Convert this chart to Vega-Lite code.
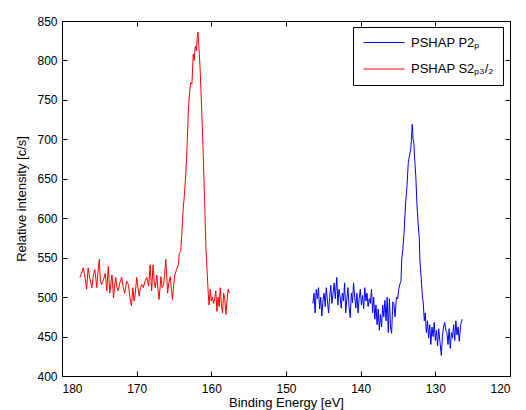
{
  "$schema": "https://vega.github.io/schema/vega-lite/v6.json",
  "width": 448,
  "height": 355,
  "autosize": "none",
  "padding": {"left": 62, "top": 21, "right": 16, "bottom": 34},
  "background": "white",
  "config": {
    "font": "Liberation Sans",
    "view": {"stroke": "black", "strokeWidth": 1},
    "axis": {
      "grid": false,
      "domainColor": "black",
      "tickColor": "black",
      "labelColor": "black",
      "titleColor": "black",
      "labelFont": "Liberation Sans",
      "titleFont": "Liberation Sans",
      "labelFontSize": 12,
      "titleFontSize": 13,
      "titleFontWeight": "normal",
      "tickSize": -5,
      "labelPadding": 9
    },
    "legend": {
      "labelFont": "Liberation Sans",
      "labelFontSize": 13,
      "labelColor": "black"
    }
  },
  "datasets": {
    "spectra": [
      {"series": "PSHAP S2ₚ₃/₂", "energy": 177.6, "intensity": 525},
      {"series": "PSHAP S2ₚ₃/₂", "energy": 177.4, "intensity": 530},
      {"series": "PSHAP S2ₚ₃/₂", "energy": 177.15, "intensity": 537},
      {"series": "PSHAP S2ₚ₃/₂", "energy": 176.9, "intensity": 524},
      {"series": "PSHAP S2ₚ₃/₂", "energy": 176.7, "intensity": 510},
      {"series": "PSHAP S2ₚ₃/₂", "energy": 176.5, "intensity": 537},
      {"series": "PSHAP S2ₚ₃/₂", "energy": 176.25, "intensity": 522},
      {"series": "PSHAP S2ₚ₃/₂", "energy": 176.0, "intensity": 512},
      {"series": "PSHAP S2ₚ₃/₂", "energy": 175.8, "intensity": 528},
      {"series": "PSHAP S2ₚ₃/₂", "energy": 175.6, "intensity": 535},
      {"series": "PSHAP S2ₚ₃/₂", "energy": 175.35, "intensity": 512},
      {"series": "PSHAP S2ₚ₃/₂", "energy": 175.2, "intensity": 530},
      {"series": "PSHAP S2ₚ₃/₂", "energy": 175.0, "intensity": 548},
      {"series": "PSHAP S2ₚ₃/₂", "energy": 174.85, "intensity": 520},
      {"series": "PSHAP S2ₚ₃/₂", "energy": 174.7, "intensity": 516},
      {"series": "PSHAP S2ₚ₃/₂", "energy": 174.45, "intensity": 522},
      {"series": "PSHAP S2ₚ₃/₂", "energy": 174.2, "intensity": 530},
      {"series": "PSHAP S2ₚ₃/₂", "energy": 174.0, "intensity": 508},
      {"series": "PSHAP S2ₚ₃/₂", "energy": 173.8, "intensity": 539},
      {"series": "PSHAP S2ₚ₃/₂", "energy": 173.6, "intensity": 505},
      {"series": "PSHAP S2ₚ₃/₂", "energy": 173.45, "intensity": 518},
      {"series": "PSHAP S2ₚ₃/₂", "energy": 173.3, "intensity": 528},
      {"series": "PSHAP S2ₚ₃/₂", "energy": 173.1, "intensity": 499},
      {"series": "PSHAP S2ₚ₃/₂", "energy": 172.95, "intensity": 515},
      {"series": "PSHAP S2ₚ₃/₂", "energy": 172.8, "intensity": 525},
      {"series": "PSHAP S2ₚ₃/₂", "energy": 172.65, "intensity": 512},
      {"series": "PSHAP S2ₚ₃/₂", "energy": 172.5, "intensity": 508},
      {"series": "PSHAP S2ₚ₃/₂", "energy": 172.25, "intensity": 518},
      {"series": "PSHAP S2ₚ₃/₂", "energy": 172.0, "intensity": 525},
      {"series": "PSHAP S2ₚ₃/₂", "energy": 171.8, "intensity": 512},
      {"series": "PSHAP S2ₚ₃/₂", "energy": 171.6, "intensity": 505},
      {"series": "PSHAP S2ₚ₃/₂", "energy": 171.35, "intensity": 520},
      {"series": "PSHAP S2ₚ₃/₂", "energy": 171.1, "intensity": 516},
      {"series": "PSHAP S2ₚ₃/₂", "energy": 170.9, "intensity": 499},
      {"series": "PSHAP S2ₚ₃/₂", "energy": 170.7, "intensity": 489},
      {"series": "PSHAP S2ₚ₃/₂", "energy": 170.5, "intensity": 512},
      {"series": "PSHAP S2ₚ₃/₂", "energy": 170.35, "intensity": 495},
      {"series": "PSHAP S2ₚ₃/₂", "energy": 170.2, "intensity": 503},
      {"series": "PSHAP S2ₚ₃/₂", "energy": 170.0, "intensity": 525},
      {"series": "PSHAP S2ₚ₃/₂", "energy": 169.8, "intensity": 510},
      {"series": "PSHAP S2ₚ₃/₂", "energy": 169.65, "intensity": 501},
      {"series": "PSHAP S2ₚ₃/₂", "energy": 169.5, "intensity": 512},
      {"series": "PSHAP S2ₚ₃/₂", "energy": 169.3, "intensity": 516},
      {"series": "PSHAP S2ₚ₃/₂", "energy": 169.1, "intensity": 512},
      {"series": "PSHAP S2ₚ₃/₂", "energy": 168.9, "intensity": 520},
      {"series": "PSHAP S2ₚ₃/₂", "energy": 168.65, "intensity": 525},
      {"series": "PSHAP S2ₚ₃/₂", "energy": 168.4, "intensity": 514},
      {"series": "PSHAP S2ₚ₃/₂", "energy": 168.2, "intensity": 541},
      {"series": "PSHAP S2ₚ₃/₂", "energy": 168.0, "intensity": 508},
      {"series": "PSHAP S2ₚ₃/₂", "energy": 167.8, "intensity": 541},
      {"series": "PSHAP S2ₚ₃/₂", "energy": 167.65, "intensity": 520},
      {"series": "PSHAP S2ₚ₃/₂", "energy": 167.5, "intensity": 512},
      {"series": "PSHAP S2ₚ₃/₂", "energy": 167.3, "intensity": 528},
      {"series": "PSHAP S2ₚ₃/₂", "energy": 167.15, "intensity": 510},
      {"series": "PSHAP S2ₚ₃/₂", "energy": 167.0, "intensity": 497},
      {"series": "PSHAP S2ₚ₃/₂", "energy": 166.75, "intensity": 526},
      {"series": "PSHAP S2ₚ₃/₂", "energy": 166.6, "intensity": 512},
      {"series": "PSHAP S2ₚ₃/₂", "energy": 166.4, "intensity": 516},
      {"series": "PSHAP S2ₚ₃/₂", "energy": 166.25, "intensity": 530},
      {"series": "PSHAP S2ₚ₃/₂", "energy": 166.1, "intensity": 548},
      {"series": "PSHAP S2ₚ₃/₂", "energy": 165.85, "intensity": 505},
      {"series": "PSHAP S2ₚ₃/₂", "energy": 165.7, "intensity": 518},
      {"series": "PSHAP S2ₚ₃/₂", "energy": 165.5, "intensity": 526},
      {"series": "PSHAP S2ₚ₃/₂", "energy": 165.35, "intensity": 510},
      {"series": "PSHAP S2ₚ₃/₂", "energy": 165.2, "intensity": 497},
      {"series": "PSHAP S2ₚ₃/₂", "energy": 165.05, "intensity": 515},
      {"series": "PSHAP S2ₚ₃/₂", "energy": 164.9, "intensity": 528},
      {"series": "PSHAP S2ₚ₃/₂", "energy": 164.65, "intensity": 535},
      {"series": "PSHAP S2ₚ₃/₂", "energy": 164.4, "intensity": 541},
      {"series": "PSHAP S2ₚ₃/₂", "energy": 164.3, "intensity": 555},
      {"series": "PSHAP S2ₚ₃/₂", "energy": 164.1, "intensity": 558},
      {"series": "PSHAP S2ₚ₃/₂", "energy": 163.95, "intensity": 580},
      {"series": "PSHAP S2ₚ₃/₂", "energy": 163.76, "intensity": 613},
      {"series": "PSHAP S2ₚ₃/₂", "energy": 163.6, "intensity": 630},
      {"series": "PSHAP S2ₚ₃/₂", "energy": 163.43, "intensity": 655},
      {"series": "PSHAP S2ₚ₃/₂", "energy": 163.25, "intensity": 690},
      {"series": "PSHAP S2ₚ₃/₂", "energy": 163.09, "intensity": 734},
      {"series": "PSHAP S2ₚ₃/₂", "energy": 162.95, "intensity": 755},
      {"series": "PSHAP S2ₚ₃/₂", "energy": 162.77, "intensity": 772},
      {"series": "PSHAP S2ₚ₃/₂", "energy": 162.6, "intensity": 770},
      {"series": "PSHAP S2ₚ₃/₂", "energy": 162.42, "intensity": 808},
      {"series": "PSHAP S2ₚ₃/₂", "energy": 162.3, "intensity": 800},
      {"series": "PSHAP S2ₚ₃/₂", "energy": 162.15, "intensity": 818},
      {"series": "PSHAP S2ₚ₃/₂", "energy": 162.0, "intensity": 812},
      {"series": "PSHAP S2ₚ₃/₂", "energy": 161.9, "intensity": 828},
      {"series": "PSHAP S2ₚ₃/₂", "energy": 161.79, "intensity": 836},
      {"series": "PSHAP S2ₚ₃/₂", "energy": 161.65, "intensity": 815},
      {"series": "PSHAP S2ₚ₃/₂", "energy": 161.52, "intensity": 793},
      {"series": "PSHAP S2ₚ₃/₂", "energy": 161.3, "intensity": 740},
      {"series": "PSHAP S2ₚ₃/₂", "energy": 161.08, "intensity": 680},
      {"series": "PSHAP S2ₚ₃/₂", "energy": 160.9, "intensity": 620},
      {"series": "PSHAP S2ₚ₃/₂", "energy": 160.72, "intensity": 562},
      {"series": "PSHAP S2ₚ₃/₂", "energy": 160.55, "intensity": 530},
      {"series": "PSHAP S2ₚ₃/₂", "energy": 160.41, "intensity": 504},
      {"series": "PSHAP S2ₚ₃/₂", "energy": 160.3, "intensity": 490},
      {"series": "PSHAP S2ₚ₃/₂", "energy": 160.15, "intensity": 510},
      {"series": "PSHAP S2ₚ₃/₂", "energy": 160.0, "intensity": 495},
      {"series": "PSHAP S2ₚ₃/₂", "energy": 159.85, "intensity": 500},
      {"series": "PSHAP S2ₚ₃/₂", "energy": 159.7, "intensity": 492},
      {"series": "PSHAP S2ₚ₃/₂", "energy": 159.55, "intensity": 498},
      {"series": "PSHAP S2ₚ₃/₂", "energy": 159.4, "intensity": 508},
      {"series": "PSHAP S2ₚ₃/₂", "energy": 159.25, "intensity": 482},
      {"series": "PSHAP S2ₚ₃/₂", "energy": 159.1, "intensity": 500},
      {"series": "PSHAP S2ₚ₃/₂", "energy": 158.95, "intensity": 488},
      {"series": "PSHAP S2ₚ₃/₂", "energy": 158.8, "intensity": 512},
      {"series": "PSHAP S2ₚ₃/₂", "energy": 158.65, "intensity": 490},
      {"series": "PSHAP S2ₚ₃/₂", "energy": 158.5, "intensity": 480},
      {"series": "PSHAP S2ₚ₃/₂", "energy": 158.35, "intensity": 505},
      {"series": "PSHAP S2ₚ₃/₂", "energy": 158.2, "intensity": 498},
      {"series": "PSHAP S2ₚ₃/₂", "energy": 158.05, "intensity": 478},
      {"series": "PSHAP S2ₚ₃/₂", "energy": 157.9, "intensity": 495},
      {"series": "PSHAP S2ₚ₃/₂", "energy": 157.75, "intensity": 510},
      {"series": "PSHAP S2ₚ₃/₂", "energy": 157.6, "intensity": 505},
      {"series": "PSHAP P2ₚ", "energy": 146.4, "intensity": 492},
      {"series": "PSHAP P2ₚ", "energy": 146.25, "intensity": 505},
      {"series": "PSHAP P2ₚ", "energy": 146.1, "intensity": 480},
      {"series": "PSHAP P2ₚ", "energy": 145.95, "intensity": 510},
      {"series": "PSHAP P2ₚ", "energy": 145.8, "intensity": 498},
      {"series": "PSHAP P2ₚ", "energy": 145.65, "intensity": 512},
      {"series": "PSHAP P2ₚ", "energy": 145.5, "intensity": 485},
      {"series": "PSHAP P2ₚ", "energy": 145.35, "intensity": 500},
      {"series": "PSHAP P2ₚ", "energy": 145.2, "intensity": 476},
      {"series": "PSHAP P2ₚ", "energy": 145.05, "intensity": 495},
      {"series": "PSHAP P2ₚ", "energy": 144.9, "intensity": 505},
      {"series": "PSHAP P2ₚ", "energy": 144.75, "intensity": 488},
      {"series": "PSHAP P2ₚ", "energy": 144.6, "intensity": 512},
      {"series": "PSHAP P2ₚ", "energy": 144.45, "intensity": 495},
      {"series": "PSHAP P2ₚ", "energy": 144.3, "intensity": 480},
      {"series": "PSHAP P2ₚ", "energy": 144.15, "intensity": 500},
      {"series": "PSHAP P2ₚ", "energy": 144.0, "intensity": 515},
      {"series": "PSHAP P2ₚ", "energy": 143.85, "intensity": 492},
      {"series": "PSHAP P2ₚ", "energy": 143.7, "intensity": 505},
      {"series": "PSHAP P2ₚ", "energy": 143.55, "intensity": 518},
      {"series": "PSHAP P2ₚ", "energy": 143.4, "intensity": 498},
      {"series": "PSHAP P2ₚ", "energy": 143.2, "intensity": 525},
      {"series": "PSHAP P2ₚ", "energy": 143.05, "intensity": 490},
      {"series": "PSHAP P2ₚ", "energy": 142.9, "intensity": 510},
      {"series": "PSHAP P2ₚ", "energy": 142.75, "intensity": 500},
      {"series": "PSHAP P2ₚ", "energy": 142.6, "intensity": 486},
      {"series": "PSHAP P2ₚ", "energy": 142.45, "intensity": 505},
      {"series": "PSHAP P2ₚ", "energy": 142.3, "intensity": 495},
      {"series": "PSHAP P2ₚ", "energy": 142.15, "intensity": 518},
      {"series": "PSHAP P2ₚ", "energy": 142.0, "intensity": 480},
      {"series": "PSHAP P2ₚ", "energy": 141.85, "intensity": 498},
      {"series": "PSHAP P2ₚ", "energy": 141.7, "intensity": 512},
      {"series": "PSHAP P2ₚ", "energy": 141.55, "intensity": 488},
      {"series": "PSHAP P2ₚ", "energy": 141.4, "intensity": 474},
      {"series": "PSHAP P2ₚ", "energy": 141.25, "intensity": 505},
      {"series": "PSHAP P2ₚ", "energy": 141.1, "intensity": 493},
      {"series": "PSHAP P2ₚ", "energy": 140.95, "intensity": 518},
      {"series": "PSHAP P2ₚ", "energy": 140.8, "intensity": 500},
      {"series": "PSHAP P2ₚ", "energy": 140.65, "intensity": 486},
      {"series": "PSHAP P2ₚ", "energy": 140.5, "intensity": 505},
      {"series": "PSHAP P2ₚ", "energy": 140.35, "intensity": 480},
      {"series": "PSHAP P2ₚ", "energy": 140.2, "intensity": 498},
      {"series": "PSHAP P2ₚ", "energy": 140.05, "intensity": 510},
      {"series": "PSHAP P2ₚ", "energy": 139.9, "intensity": 490},
      {"series": "PSHAP P2ₚ", "energy": 139.75, "intensity": 502},
      {"series": "PSHAP P2ₚ", "energy": 139.6, "intensity": 485},
      {"series": "PSHAP P2ₚ", "energy": 139.45, "intensity": 512},
      {"series": "PSHAP P2ₚ", "energy": 139.3, "intensity": 495},
      {"series": "PSHAP P2ₚ", "energy": 139.15, "intensity": 505},
      {"series": "PSHAP P2ₚ", "energy": 139.0, "intensity": 488},
      {"series": "PSHAP P2ₚ", "energy": 138.85, "intensity": 498},
      {"series": "PSHAP P2ₚ", "energy": 138.7, "intensity": 492},
      {"series": "PSHAP P2ₚ", "energy": 138.55, "intensity": 510},
      {"series": "PSHAP P2ₚ", "energy": 138.4, "intensity": 480},
      {"series": "PSHAP P2ₚ", "energy": 138.25, "intensity": 500},
      {"series": "PSHAP P2ₚ", "energy": 138.1, "intensity": 472},
      {"series": "PSHAP P2ₚ", "energy": 137.95, "intensity": 490},
      {"series": "PSHAP P2ₚ", "energy": 137.8, "intensity": 465},
      {"series": "PSHAP P2ₚ", "energy": 137.65, "intensity": 485},
      {"series": "PSHAP P2ₚ", "energy": 137.5, "intensity": 458},
      {"series": "PSHAP P2ₚ", "energy": 137.35, "intensity": 478},
      {"series": "PSHAP P2ₚ", "energy": 137.2, "intensity": 462},
      {"series": "PSHAP P2ₚ", "energy": 137.05, "intensity": 490},
      {"series": "PSHAP P2ₚ", "energy": 136.9, "intensity": 475},
      {"series": "PSHAP P2ₚ", "energy": 136.75, "intensity": 496},
      {"series": "PSHAP P2ₚ", "energy": 136.6, "intensity": 470},
      {"series": "PSHAP P2ₚ", "energy": 136.45, "intensity": 500},
      {"series": "PSHAP P2ₚ", "energy": 136.3, "intensity": 455},
      {"series": "PSHAP P2ₚ", "energy": 136.15, "intensity": 498},
      {"series": "PSHAP P2ₚ", "energy": 136.0, "intensity": 462},
      {"series": "PSHAP P2ₚ", "energy": 135.85, "intensity": 454},
      {"series": "PSHAP P2ₚ", "energy": 135.7, "intensity": 494},
      {"series": "PSHAP P2ₚ", "energy": 135.55, "intensity": 492},
      {"series": "PSHAP P2ₚ", "energy": 135.4, "intensity": 475},
      {"series": "PSHAP P2ₚ", "energy": 135.2, "intensity": 500},
      {"series": "PSHAP P2ₚ", "energy": 135.04, "intensity": 498},
      {"series": "PSHAP P2ₚ", "energy": 134.9, "intensity": 510},
      {"series": "PSHAP P2ₚ", "energy": 134.73, "intensity": 517},
      {"series": "PSHAP P2ₚ", "energy": 134.6, "intensity": 520},
      {"series": "PSHAP P2ₚ", "energy": 134.5, "intensity": 548},
      {"series": "PSHAP P2ₚ", "energy": 134.35, "intensity": 560},
      {"series": "PSHAP P2ₚ", "energy": 134.2, "intensity": 580},
      {"series": "PSHAP P2ₚ", "energy": 133.97, "intensity": 621},
      {"series": "PSHAP P2ₚ", "energy": 133.8, "intensity": 640},
      {"series": "PSHAP P2ₚ", "energy": 133.62, "intensity": 671},
      {"series": "PSHAP P2ₚ", "energy": 133.45, "intensity": 680},
      {"series": "PSHAP P2ₚ", "energy": 133.3, "intensity": 687},
      {"series": "PSHAP P2ₚ", "energy": 133.2, "intensity": 700},
      {"series": "PSHAP P2ₚ", "energy": 133.09, "intensity": 719},
      {"series": "PSHAP P2ₚ", "energy": 132.98, "intensity": 700},
      {"series": "PSHAP P2ₚ", "energy": 132.86, "intensity": 694},
      {"series": "PSHAP P2ₚ", "energy": 132.8, "intensity": 680},
      {"series": "PSHAP P2ₚ", "energy": 132.72, "intensity": 669},
      {"series": "PSHAP P2ₚ", "energy": 132.6, "intensity": 650},
      {"series": "PSHAP P2ₚ", "energy": 132.46, "intensity": 617},
      {"series": "PSHAP P2ₚ", "energy": 132.28, "intensity": 590},
      {"series": "PSHAP P2ₚ", "energy": 132.15, "intensity": 575},
      {"series": "PSHAP P2ₚ", "energy": 132.06, "intensity": 546},
      {"series": "PSHAP P2ₚ", "energy": 131.9, "intensity": 525},
      {"series": "PSHAP P2ₚ", "energy": 131.75, "intensity": 504},
      {"series": "PSHAP P2ₚ", "energy": 131.6, "intensity": 490},
      {"series": "PSHAP P2ₚ", "energy": 131.48, "intensity": 470},
      {"series": "PSHAP P2ₚ", "energy": 131.35, "intensity": 480},
      {"series": "PSHAP P2ₚ", "energy": 131.2, "intensity": 455},
      {"series": "PSHAP P2ₚ", "energy": 131.05, "intensity": 470},
      {"series": "PSHAP P2ₚ", "energy": 130.9, "intensity": 448},
      {"series": "PSHAP P2ₚ", "energy": 130.75, "intensity": 465},
      {"series": "PSHAP P2ₚ", "energy": 130.6, "intensity": 440},
      {"series": "PSHAP P2ₚ", "energy": 130.45, "intensity": 462},
      {"series": "PSHAP P2ₚ", "energy": 130.3, "intensity": 450},
      {"series": "PSHAP P2ₚ", "energy": 130.15, "intensity": 468},
      {"series": "PSHAP P2ₚ", "energy": 130.0, "intensity": 445},
      {"series": "PSHAP P2ₚ", "energy": 129.85, "intensity": 458},
      {"series": "PSHAP P2ₚ", "energy": 129.7, "intensity": 438},
      {"series": "PSHAP P2ₚ", "energy": 129.55, "intensity": 460},
      {"series": "PSHAP P2ₚ", "energy": 129.4, "intensity": 445},
      {"series": "PSHAP P2ₚ", "energy": 129.2, "intensity": 426},
      {"series": "PSHAP P2ₚ", "energy": 129.05, "intensity": 450},
      {"series": "PSHAP P2ₚ", "energy": 128.9, "intensity": 462},
      {"series": "PSHAP P2ₚ", "energy": 128.75, "intensity": 468},
      {"series": "PSHAP P2ₚ", "energy": 128.6, "intensity": 458},
      {"series": "PSHAP P2ₚ", "energy": 128.45, "intensity": 455},
      {"series": "PSHAP P2ₚ", "energy": 128.3, "intensity": 440},
      {"series": "PSHAP P2ₚ", "energy": 128.15, "intensity": 460},
      {"series": "PSHAP P2ₚ", "energy": 128.0, "intensity": 435},
      {"series": "PSHAP P2ₚ", "energy": 127.85, "intensity": 455},
      {"series": "PSHAP P2ₚ", "energy": 127.7, "intensity": 448},
      {"series": "PSHAP P2ₚ", "energy": 127.55, "intensity": 465},
      {"series": "PSHAP P2ₚ", "energy": 127.4, "intensity": 445},
      {"series": "PSHAP P2ₚ", "energy": 127.25, "intensity": 470},
      {"series": "PSHAP P2ₚ", "energy": 127.1, "intensity": 452},
      {"series": "PSHAP P2ₚ", "energy": 126.95, "intensity": 462},
      {"series": "PSHAP P2ₚ", "energy": 126.8, "intensity": 444},
      {"series": "PSHAP P2ₚ", "energy": 126.6, "intensity": 465},
      {"series": "PSHAP P2ₚ", "energy": 126.4, "intensity": 472}
    ]
  },
  "data": {"name": "spectra"},
  "layer": [
    {
      "mark": {"type": "line", "strokeWidth": 1, "interpolate": "linear"},
      "encoding": {
        "x": {
          "field": "energy", "type": "quantitative",
          "scale": {"domain": [120, 180], "reverse": true, "nice": false, "zero": false},
          "axis": {"orient": "bottom", "values": [120, 130, 140, 150, 160, 170, 180], "labelPadding": 12, "title": "Binding Energy [eV]", "titlePadding": 2}
        },
        "y": {
          "field": "intensity", "type": "quantitative",
          "scale": {"domain": [400, 850], "nice": false, "zero": false},
          "axis": {"orient": "left", "values": [400, 450, 500, 550, 600, 650, 700, 750, 800, 850], "labelPadding": 10, "title": "Relative intensity [c/s]", "titlePadding": 8}
        },
        "color": {
          "field": "series", "type": "nominal",
          "scale": {"domain": ["PSHAP P2ₚ", "PSHAP S2ₚ₃/₂"], "range": ["#0000ff", "#ff0000"]},
          "legend": {
            "title": null,
            "orient": "none",
            "legendX": 291,
            "legendY": 6,
            "strokeColor": "black",
            "fillColor": "white",
            "padding": 9,
            "symbolType": "M-1,0H7.2",
            "symbolSize": 100,
            "symbolStrokeWidth": 1,
            "labelOffset": 36,
            "rowPadding": 12.5
          }
        },
        "order": {"field": "energy", "type": "quantitative", "sort": "descending"}
      }
    },
    {
      "mark": {"type": "line", "strokeOpacity": 0},
      "encoding": {
        "x": {
          "field": "energy", "type": "quantitative",
          "axis": {"orient": "top", "values": [120, 130, 140, 150, 160, 170, 180], "labels": false, "title": null}
        },
        "y": {
          "field": "intensity", "type": "quantitative",
          "axis": {"orient": "right", "values": [400, 450, 500, 550, 600, 650, 700, 750, 800, 850], "labels": false, "title": null}
        },
        "detail": {"field": "series", "type": "nominal"}
      }
    }
  ],
  "resolve": {"axis": {"x": "independent", "y": "independent"}}
}
